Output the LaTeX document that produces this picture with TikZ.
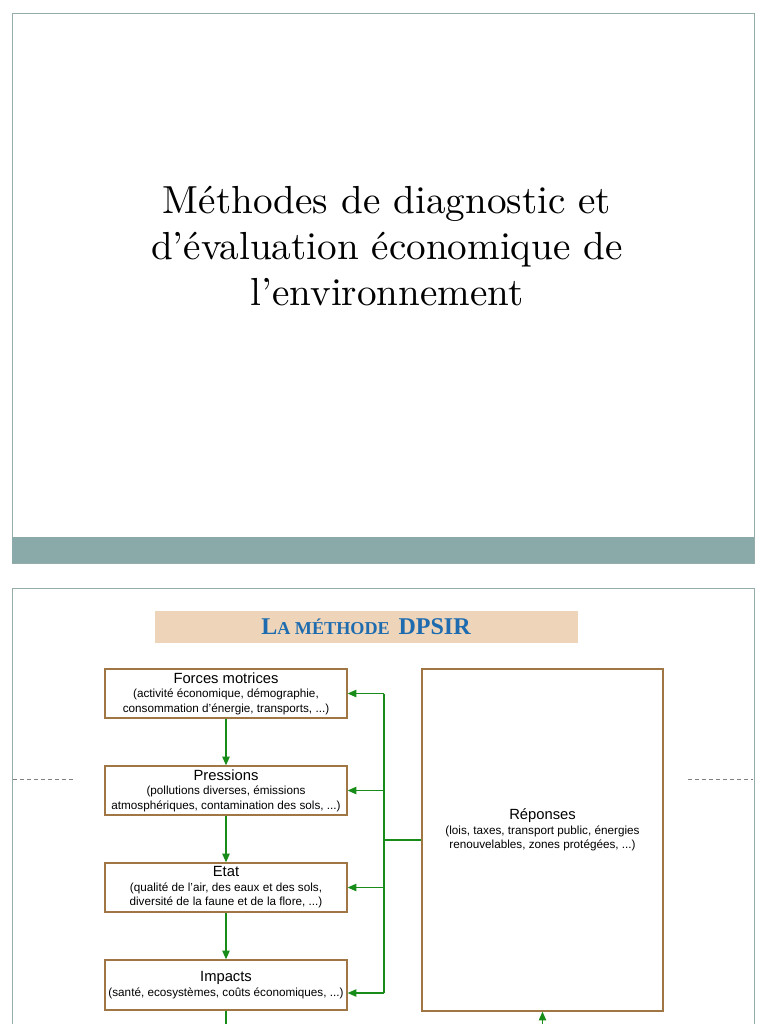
\documentclass[tikz,border=0pt]{standalone}
\usepackage{fontspec}
\setsansfont{Liberation Sans}
\newfontfamily\headfont{Liberation Serif}
\newfontfamily\titlefont{lmroman10-regular.otf}
\usetikzlibrary{arrows.meta}
\definecolor{slideband}{RGB}{138,170,170}
\definecolor{slideframe}{RGB}{150,172,170}
\definecolor{headbg}{RGB}{238,213,185}
\definecolor{headblue}{RGB}{30,108,175}
\definecolor{boxbrown}{RGB}{160,118,68}
\definecolor{flowgreen}{RGB}{24,140,24}
\tikzset{
  dpsirbox/.style={draw=boxbrown, line width=1.1pt, fill=white, align=center,
    inner sep=0pt, font=\sffamily\fontsize{10}{12.3}\selectfont},
  boxtext/.style={align=center, inner sep=0pt, font=\sffamily\fontsize{10}{12.3}\selectfont},
  flow/.style={draw=flowgreen, line width=1pt, -{Triangle[length=2.6mm,width=2.2mm]}},
  bus/.style={draw=flowgreen, line width=1pt},
}
\newcommand{\boxhead}[1]{{\fontsize{12.6}{14}\selectfont #1}}
\begin{document}
\begin{tikzpicture}[x=0.03cm,y=-0.03cm]
    \useasboundingbox (0,0) rectangle (768,1024);
    \clip (0,0) rectangle (768,1024);
    \fill[white] (0,0) rectangle (768,1024);
    \draw[slideframe] (12,13) rectangle (754,563);
    \fill[slideband] (12,537) rectangle (754,563);
    \node[align=center, font=\titlefont\fontsize{33.4}{39.2}\selectfont] (title) at (387,246)
        {Méthodes de diagnostic et\\d’évaluation économique de\\l’environnement};
    \draw[slideframe] (12,588) rectangle (754,1040);
    \draw[gray, dashed, line width=0.4pt] (13,779) -- (73,779);
    \draw[gray, dashed, line width=0.4pt] (688,779) -- (753,779);
    \fill[headbg] (155,611) rectangle (578,643);
    \node[font=\headfont\bfseries, text=headblue] (heading) at (366,627)
        {{\fontsize{20.5}{22}\selectfont L}{\fontsize{15.5}{22}\selectfont A MÉTHODE}\hspace{5pt} {\fontsize{20.5}{22}\selectfont DPSIR}};
    \node[dpsirbox, minimum width=7.26cm, minimum height=1.47cm] (forces) at (226,693.5)
        {\boxhead{Forces motrices}\\(activité économique, démographie,\\consommation d’énergie, transports, ...)};
    \node[dpsirbox, minimum width=7.26cm, minimum height=1.47cm] (pressions) at (226,790.5)
        {\boxhead{Pressions}\\(pollutions diverses, émissions\\atmosphériques, contamination des sols, ...)};
    \node[dpsirbox, minimum width=7.26cm, minimum height=1.47cm] (etat) at (226,887.5)
        {\boxhead{Etat}\\(qualité de l’air, des eaux et des sols,\\diversité de la faune et de la flore, ...)};
    \node[dpsirbox, minimum width=7.26cm, minimum height=1.50cm] (impacts) at (226,985)
        {\boxhead{Impacts}\\(santé, ecosystèmes, coûts économiques, ...)};
    \node[dpsirbox, minimum width=7.23cm, minimum height=10.26cm] (reponses) at (542.5,840) {};
    \node[boxtext] (reponsestext) at ([yshift=0.3cm]reponses.center)
        {\boxhead{Réponses}\\(lois, taxes, transport public, énergies\\renouvelables, zones protégées, ...)};
    \coordinate (bustop) at (384,693.5);
    \coordinate (busbot) at (384,993);
    \coordinate (flowout) at (226,1040);
    \coordinate (flowin) at (542.5,1040);
    \draw[flow] (forces) -- (pressions);
    \draw[flow] (pressions) -- (etat);
    \draw[flow] (etat) -- (impacts);
    \draw[bus] (impacts.south) -- (flowout);
    \draw[bus] (bustop) -- (busbot);
    \draw[bus] (reponses.west) -- (reponses.west -| bustop);
    \draw[flow] (bustop) -- (forces.east);
    \draw[flow] (pressions.east -| bustop) -- (pressions.east);
    \draw[flow] (etat.east -| bustop) -- (etat.east);
    \draw[flow] (busbot) -- (impacts.east |- busbot);
    \draw[flow] (flowin) -- (reponses.south);
\end{tikzpicture}
\end{document}
